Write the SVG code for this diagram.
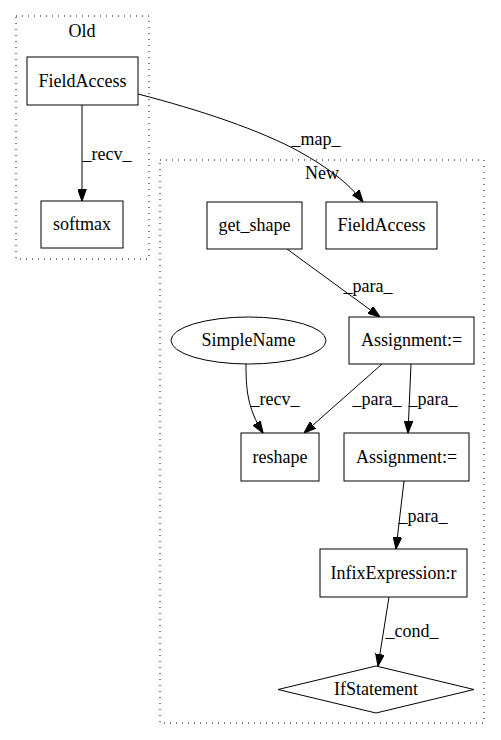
<svg xmlns="http://www.w3.org/2000/svg" width="501" height="740" viewBox="0 0 501 740">
<style>
text{font-family:"Liberation Serif","DejaVu Serif",serif;font-size:18px;fill:#000;text-anchor:middle}
.cl{fill:none;stroke:#000;stroke-width:1;stroke-dasharray:1,5}
.n{fill:#fff;stroke:#000;stroke-width:1}
.e{fill:none;stroke:#000;stroke-width:1}
</style>
<defs>
<marker id="ah" markerUnits="userSpaceOnUse" viewBox="0 0 10 7" refX="10" refY="3.5" markerWidth="12" markerHeight="9" orient="auto">
<polygon points="0,0 10,3.5 0,7" fill="#000" stroke="#000"/>
</marker>
</defs>
<rect width="501" height="740" fill="#fff"/>
<g id="cluster_old">
<rect class="cl" x="16" y="16" width="133" height="243"/>
<text x="82" y="37">Old</text>
</g>
<g id="cluster_new">
<rect class="cl" x="160" y="160" width="324" height="563"/>
<text x="322" y="179">New</text>
</g>
<g id="connectors">
<path class="e" marker-end="url(#ah)" d="M82,105 L82,201"/>
<text x="107" y="160">_recv_</text>
<path class="e" marker-end="url(#ah)" d="M138,94 C200,110 260,130 300,152 C325,166 348,182 363,202"/>
<text x="316" y="145">_map_</text>
<path class="e" marker-end="url(#ah)" d="M287,249 L380,317"/>
<text x="368" y="292">_para_</text>
<path class="e" marker-end="url(#ah)" d="M246,364 C246,388 247,408 263,433"/>
<text x="275" y="405">_recv_</text>
<path class="e" marker-end="url(#ah)" d="M382,364 L304,433"/>
<text x="377" y="405">_para_</text>
<path class="e" marker-end="url(#ah)" d="M411,364 L408,433"/>
<text x="433" y="405">_para_</text>
<path class="e" marker-end="url(#ah)" d="M404,481 L396,549"/>
<text x="423" y="522">_para_</text>
<path class="e" marker-end="url(#ah)" d="M389,597 L378,666"/>
<text x="412" y="637">_cond_</text>
</g>
<g id="old_fieldaccess">
<rect class="n" x="27" y="57" width="111" height="48"/>
<text x="82.5" y="87">FieldAccess</text>
</g>
<g id="softmax">
<rect class="n" x="41" y="201" width="82" height="47"/>
<text x="82" y="230">softmax</text>
</g>
<g id="get_shape">
<rect class="n" x="207" y="202" width="95" height="47"/>
<text x="254.5" y="231">get_shape</text>
</g>
<g id="new_fieldaccess">
<rect class="n" x="326" y="202" width="111" height="47"/>
<text x="381.5" y="231">FieldAccess</text>
</g>
<g id="simplename">
<ellipse class="n" cx="248.5" cy="340.5" rx="77.5" ry="23.5"/>
<text x="248.5" y="346">SimpleName</text>
</g>
<g id="assignment1">
<rect class="n" x="349" y="317" width="125" height="47"/>
<text x="411.5" y="346">Assignment:=</text>
</g>
<g id="reshape">
<rect class="n" x="241" y="433" width="78" height="48"/>
<text x="280" y="463">reshape</text>
</g>
<g id="assignment2">
<rect class="n" x="344" y="433" width="125" height="48"/>
<text x="406.5" y="463">Assignment:=</text>
</g>
<g id="infix">
<rect class="n" x="320" y="549" width="147" height="48"/>
<text x="393.5" y="579">InfixExpression:r</text>
</g>
<g id="ifstatement">
<polygon class="n" points="376,666 474,689.5 376,713 278,689.5"/>
<text x="376" y="695">IfStatement</text>
</g>
</svg>
